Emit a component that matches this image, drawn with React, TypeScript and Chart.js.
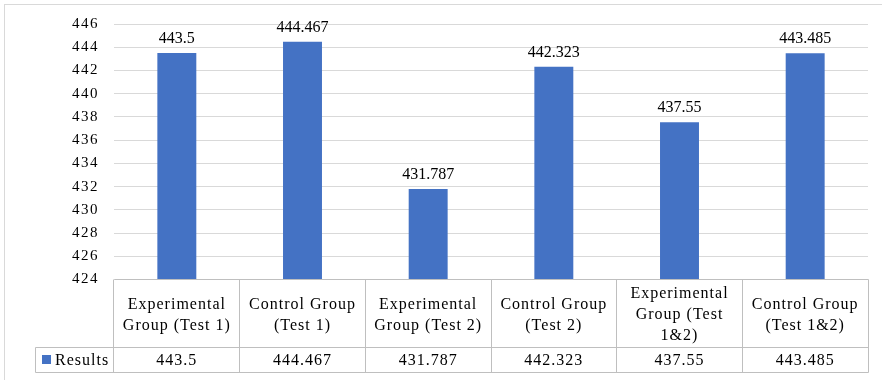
import React, { useEffect, useRef } from "react";
import { Chart, registerables } from "chart.js";

Chart.register(...registerables);

// Category captions, one entry per line as shown in the data table
const categoryLines: string[][] = [
  ["Experimental", "Group (Test 1)"],
  ["Control Group", "(Test 1)"],
  ["Experimental", "Group (Test 2)"],
  ["Control Group", "(Test 2)"],
  ["Experimental", "Group (Test", "1&2)"],
  ["Control Group", "(Test 1&2)"],
];
const seriesName = "Results";
const results: number[] = [443.5, 444.467, 431.787, 442.323, 437.55, 443.485];
const yMin = 424;
const yMax = 446;
const yStep = 2;

const SERIF = "'Liberation Serif', 'Times New Roman', serif";
const BAR_COLOR = "#4472C4";
const TABLE_LINE = "#bfbfbf";

const px = (v: number) => Math.floor(v) + 0.5;

const frameBorder = {
  id: "frameBorder",
  beforeDraw(chart: any) {
    const { ctx, width, height } = chart;
    ctx.save();
    ctx.fillStyle = "#ffffff";
    ctx.fillRect(0, 0, width, height);
    ctx.strokeStyle = "#d9d9d9";
    ctx.lineWidth = 1;
    ctx.strokeRect(4.5, 4.5, width + 20, height + 20);
    ctx.restore();
    // spaced tick digits
    ctx.letterSpacing = "1.5px";
  },
  beforeDatasetsDraw(chart: any) {
    chart.ctx.letterSpacing = "0px";
  },
};

const valueLabels = {
  id: "valueLabels",
  afterDatasetsDraw(chart: any) {
    const { ctx } = chart;
    const meta = chart.getDatasetMeta(0);
    ctx.save();
    ctx.letterSpacing = "0px";
    ctx.font = `16px ${SERIF}`;
    ctx.fillStyle = "#000000";
    ctx.textAlign = "center";
    ctx.textBaseline = "alphabetic";
    meta.data.forEach((bar: any, i: number) => {
      ctx.fillText(String(results[i]), bar.x, bar.y - 10);
    });
    ctx.restore();
  },
};

const dataTable = {
  id: "dataTable",
  afterDraw(chart: any) {
    const { ctx, chartArea } = chart;
    const xs = chart.scales.x;
    const n = results.length;
    const colW = (chartArea.right - chartArea.left) / n;
    const top = chartArea.bottom;
    const rowLine = top + 68;
    const bottom = top + 93;
    const legendLeft = 35;

    const line = (x1: number, y1: number, x2: number, y2: number) => {
      ctx.beginPath();
      ctx.moveTo(x1, y1);
      ctx.lineTo(x2, y2);
      ctx.stroke();
    };

    ctx.save();
    ctx.letterSpacing = "0px";
    ctx.strokeStyle = TABLE_LINE;
    ctx.lineWidth = 1;
    const L = px(chartArea.left);
    const R = px(chartArea.right);
    line(L, px(top), R, px(top));
    line(px(legendLeft), px(rowLine), R, px(rowLine));
    line(px(legendLeft), px(bottom), R, px(bottom));
    line(px(legendLeft), px(rowLine), px(legendLeft), px(bottom));
    for (let i = 0; i <= n; i++) {
      const bx = i < n ? xs.getPixelForValue(i) - colW / 2 : xs.getPixelForValue(n - 1) + colW / 2;
      line(px(bx), px(top), px(bx), px(bottom));
    }

    ctx.fillStyle = "#000000";
    ctx.font = `16px ${SERIF}`;
    ctx.letterSpacing = "1px";
    ctx.textAlign = "center";
    ctx.textBaseline = "alphabetic";
    const headMid = (top + rowLine) / 2;
    const lineH = 21;
    categoryLines.forEach((lines, i) => {
      const cx = xs.getPixelForValue(i);
      lines.forEach((t, k) => {
        const y = headMid + (k - (lines.length - 1) / 2) * lineH + 5.5;
        ctx.fillText(t, cx, y);
      });
    });

    const rowMid = (rowLine + bottom) / 2;
    ctx.textBaseline = "middle";
    results.forEach((v, i) => {
      ctx.fillText(String(v), xs.getPixelForValue(i), rowMid + 1);
    });

    // legend key + series name
    ctx.fillStyle = BAR_COLOR;
    ctx.fillRect(legendLeft + 7, rowMid - 5, 9, 9);
    ctx.fillStyle = "#000000";
    ctx.textAlign = "left";
    ctx.fillText(seriesName, legendLeft + 20, rowMid + 1);
    ctx.restore();
  },
};

export default function App() {
  const canvasRef = useRef<HTMLCanvasElement | null>(null);

  useEffect(() => {
    const canvas = canvasRef.current;
    if (!canvas) return;
    const chart = new Chart(canvas, {
      type: "bar",
      data: {
        labels: categoryLines.map((l) => l.join(" ")),
        datasets: [
          {
            label: seriesName,
            data: results,
            backgroundColor: BAR_COLOR,
            borderWidth: 0,
            barPercentage: 0.31,
            categoryPercentage: 1,
          },
        ],
      },
      options: {
        responsive: false,
        animation: false,
        devicePixelRatio: 1,
        layout: { padding: { left: 0, top: 23, right: 14, bottom: 100.5 } },
        plugins: {
          legend: { display: false },
          tooltip: { enabled: false },
          title: { display: false },
        },
        scales: {
          x: { display: false },
          y: {
            min: yMin,
            max: yMax,
            border: { display: false },
            grid: { color: "#d9d9d9", drawTicks: false, lineWidth: 1 },
            ticks: {
              stepSize: yStep,
              padding: 15,
              color: "#000000",
              font: { family: SERIF, size: 15 },
              callback: (v: any) => String(v),
            },
            afterFit: (scale: any) => {
              scale.width = 114;
            },
          },
        },
      },
      plugins: [frameBorder, valueLabels, dataTable],
    });
    return () => chart.destroy();
  }, []);

  return (
    <div style={{ position: "fixed", left: 0, top: 0, width: 882, height: 380, background: "#fff" }}>
      <canvas ref={canvasRef} width={882} height={380} style={{ display: "block", width: 882, height: 380 }} />
    </div>
  );
}
